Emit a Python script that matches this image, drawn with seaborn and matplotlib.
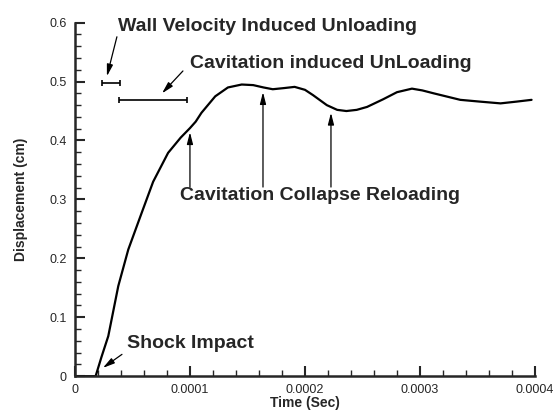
import matplotlib
matplotlib.use("Agg")
import matplotlib.pyplot as plt
from matplotlib.ticker import MultipleLocator, FixedLocator
import seaborn as sns
import pandas as pd

# displacement history
time_s = [0.0, 1.8e-5, 2.3e-5, 2.9e-5, 3.77e-5, 4.64e-5, 5.8e-5, 6.8e-5, 8.1e-5,
          9.2e-5, 1.0e-4, 1.05e-4, 1.10e-4, 1.22e-4, 1.33e-4, 1.45e-4, 1.55e-4,
          1.64e-4, 1.72e-4, 1.82e-4, 1.91e-4, 2.0e-4, 2.07e-4, 2.19e-4, 2.28e-4,
          2.36e-4, 2.45e-4, 2.54e-4, 2.68e-4, 2.80e-4, 2.93e-4, 3.02e-4, 3.12e-4,
          3.35e-4, 3.52e-4, 3.70e-4, 3.84e-4, 3.97e-4]
disp_cm = [0.0, 0.0, 0.032, 0.068, 0.153, 0.215, 0.277, 0.330, 0.379,
           0.405, 0.421, 0.432, 0.447, 0.475, 0.490, 0.495, 0.494,
           0.490, 0.487, 0.489, 0.491, 0.486, 0.477, 0.460, 0.452,
           0.450, 0.452, 0.457, 0.470, 0.482, 0.488, 0.485, 0.480,
           0.469, 0.466, 0.463, 0.466, 0.469]

# unloading intervals (start, end, level)
interval_start = [2.35e-5, 3.83e-5]
interval_end = [3.9e-5, 9.74e-5]
interval_level = [0.497, 0.469]

x_ticks = [0, 0.0001, 0.0002, 0.0003, 0.0004]
x_labels = ['0', '0.0001', '0.0002', '0.0003', '0.0004']
y_ticks = [0, 0.1, 0.2, 0.3, 0.4, 0.5, 0.6]
y_labels = ['0', '0.1', '0.2', '0.3', '0.4', '0.5', '0.6']

df = pd.DataFrame({"Time": time_s, "Disp": disp_cm})

sns.set_style("ticks")
plt.rcParams['font.family'] = ['Liberation Sans', 'DejaVu Sans']
plt.rcParams['xtick.direction'] = 'in'
plt.rcParams['ytick.direction'] = 'in'

fig = plt.figure(figsize=(5.55, 4.12), dpi=100)
ax = fig.add_axes([0.135, 0.087, 0.829, 0.858])

sns.lineplot(data=df, x="Time", y="Disp", ax=ax, color="black", linewidth=1.6)

# interval bars
for s, e, lv in zip(interval_start, interval_end, interval_level):
    ax.errorbar((s + e) / 2, lv, xerr=(e - s) / 2, fmt='none', ecolor='black',
                elinewidth=1.2, capsize=2.5, capthick=1.2)

ax.set_xlim(0, 0.0004)
ax.set_ylim(0, 0.6)
ax.xaxis.set_major_locator(FixedLocator(x_ticks))
ax.set_xticklabels(x_labels)
ax.xaxis.set_minor_locator(MultipleLocator(0.00002))
ax.yaxis.set_major_locator(FixedLocator(y_ticks))
ax.set_yticklabels(y_labels)
ax.yaxis.set_minor_locator(MultipleLocator(0.02))
ax.tick_params(which='major', length=7, width=1.5, labelsize=9, pad=6)
ax.tick_params(which='minor', length=4.5, width=1.0)
ax.tick_params(axis='x', pad=6)
for sp in ['left', 'bottom']:
    ax.spines[sp].set_linewidth(1.8)
sns.despine(ax=ax)

ax.set_xlabel('Time (Sec)', fontsize=10, fontweight='bold', labelpad=0)
ax.set_ylabel('Displacement (cm)', fontsize=10, fontweight='bold', labelpad=15)

arrow = dict(arrowstyle='-|>,head_length=0.7,head_width=0.18', color='black',
             lw=0.9, shrinkA=0, shrinkB=0)
txt = dict(fontsize=14, fontweight='bold', ha='left', va='center')

ax.text(3.74e-5, 0.593, 'Wall Velocity Induced Unloading', **txt)
ax.annotate('', xy=(2.78e-5, 0.509), xytext=(3.65e-5, 0.576), arrowprops=arrow)

ax.text(1.0e-4, 0.531, 'Cavitation induced UnLoading', **txt)
ax.annotate('', xy=(7.57e-5, 0.480), xytext=(9.39e-5, 0.518), arrowprops=arrow)

ax.text(9.13e-5, 0.307, 'Cavitation Collapse Reloading', **txt)
for xa, ya in [(1.0e-4, 0.414), (1.635e-4, 0.482), (2.226e-4, 0.447)]:
    ax.annotate('', xy=(xa, ya), xytext=(xa, 0.321), arrowprops=arrow)

ax.text(4.52e-5, 0.056, 'Shock Impact', **txt)
ax.annotate('', xy=(2.43e-5, 0.014), xytext=(4.09e-5, 0.037), arrowprops=arrow)

fig.savefig('out.png', dpi=100)
